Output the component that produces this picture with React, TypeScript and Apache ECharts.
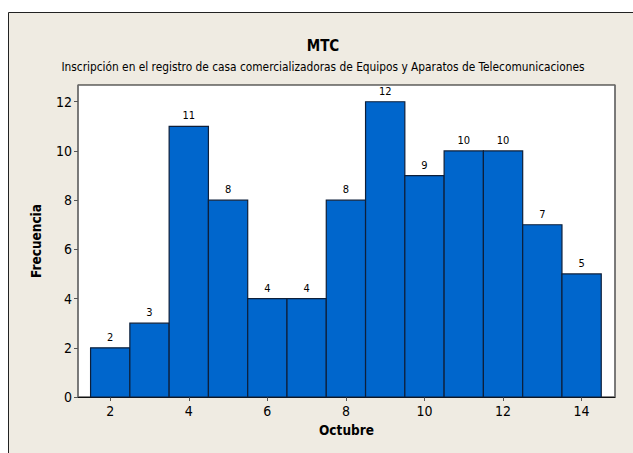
import React, { useEffect, useRef } from "react";
import * as echarts from "echarts";

const centers = [2, 3, 4, 5, 6, 7, 8, 9, 10, 11, 12, 13, 14];
const counts = [2, 3, 11, 8, 4, 4, 8, 12, 9, 10, 10, 7, 5];
const xTicks = [2, 4, 6, 8, 10, 12, 14];
const yTicks = [0, 2, 4, 6, 8, 10, 12];

const FONT = "DejaVu Sans Condensed, DejaVu Sans, sans-serif";

export default function App() {
  const ref = useRef<HTMLDivElement>(null);
  useEffect(() => {
    if (!ref.current) return;
    const chart = echarts.init(ref.current, null, { renderer: "svg" });
    const data = centers.map((c, i) => [c, counts[i]]);
    chart.setOption({
      animation: false,
      backgroundColor: "#ffffff",
      graphic: [
        {
          type: "rect",
          z: -10,
          shape: { x: 8.5, y: 12.5, width: 640, height: 460 },
          style: { fill: "#EFEBE2", stroke: "#222", lineWidth: 1 },
        },
      ],
      title: {
        text: "MTC",
        subtext:
          "Inscripción en el registro de casa comercializadoras de Equipos y Aparatos de Telecomunicaciones",
        left: 318,
        textAlign: "center",
        top: 33,
        itemGap: 8,
        textStyle: { fontFamily: FONT, fontWeight: "bold", fontSize: 15, color: "#000" },
        subtextStyle: { fontFamily: FONT, fontSize: 11.8, color: "#000" },
      },
      grid: {
        left: 78,
        top: 85,
        right: 18,
        bottom: 56,
        show: true,
        backgroundColor: "#ffffff",
        borderColor: "#111",
        borderWidth: 1,
      },
      xAxis: {
        type: "value",
        min: 1.18,
        max: 14.85,
        interval: 2,
        name: "Octubre",
        nameLocation: "middle",
        nameGap: 26,
        nameTextStyle: { fontFamily: FONT, fontWeight: "bold", fontSize: 13.5, color: "#000" },
        axisLine: { show: true, lineStyle: { color: "#111", width: 1 } },
        axisTick: { show: true, length: 4, lineStyle: { color: "#555" }, customValues: xTicks },
        axisLabel: { fontFamily: FONT, fontSize: 14, color: "#000", margin: 7, customValues: xTicks },
        splitLine: { show: false },
      },
      yAxis: [
        {
          type: "value",
          min: 0,
          max: 12.68,
          interval: 2,
          name: "Frecuencia",
          nameLocation: "middle",
          nameGap: 35,
          nameTextStyle: { fontFamily: FONT, fontWeight: "bold", fontSize: 13.5, color: "#000" },
          axisLine: { show: true, lineStyle: { color: "#777", width: 1.5 } },
          axisTick: { show: true, length: 4, lineStyle: { color: "#555" }, customValues: yTicks },
          axisLabel: { fontFamily: FONT, fontSize: 14, color: "#000", margin: 6, customValues: yTicks },
          splitLine: { show: false },
        },
        {
          type: "value",
          min: 0,
          max: 12.68,
          position: "right",
          axisLine: { show: true, lineStyle: { color: "#777", width: 1.5 } },
          axisTick: { show: false },
          axisLabel: { show: false },
          splitLine: { show: false },
        },
      ],
      series: [
        {
          type: "custom",
          data,
          renderItem: (params: any, api: any) => {
            const x = api.value(0);
            const y = api.value(1);
            const p0 = api.coord([x - 0.5, 0]);
            const p1 = api.coord([x + 0.5, y]);
            return {
              type: "group",
              children: [
                {
                  type: "rect",
                  shape: { x: p0[0], y: p1[1], width: p1[0] - p0[0], height: p0[1] - p1[1] },
                  style: { fill: "#0066CC", stroke: "#0D1F3A", lineWidth: 1.2 },
                },
                {
                  type: "text",
                  x: (p0[0] + p1[0]) / 2,
                  y: p1[1] - 5,
                  style: {
                    text: String(y),
                    fontFamily: FONT,
                    fontSize: 11,
                    fill: "#000",
                    align: "center",
                    verticalAlign: "bottom",
                  },
                },
              ],
            };
          },
        },
      ],
    });
    return () => chart.dispose();
  }, []);
  return (
    <div
      ref={ref}
      style={{ position: "fixed", left: 0, top: 0, width: 633, height: 453 }}
    />
  );
}
